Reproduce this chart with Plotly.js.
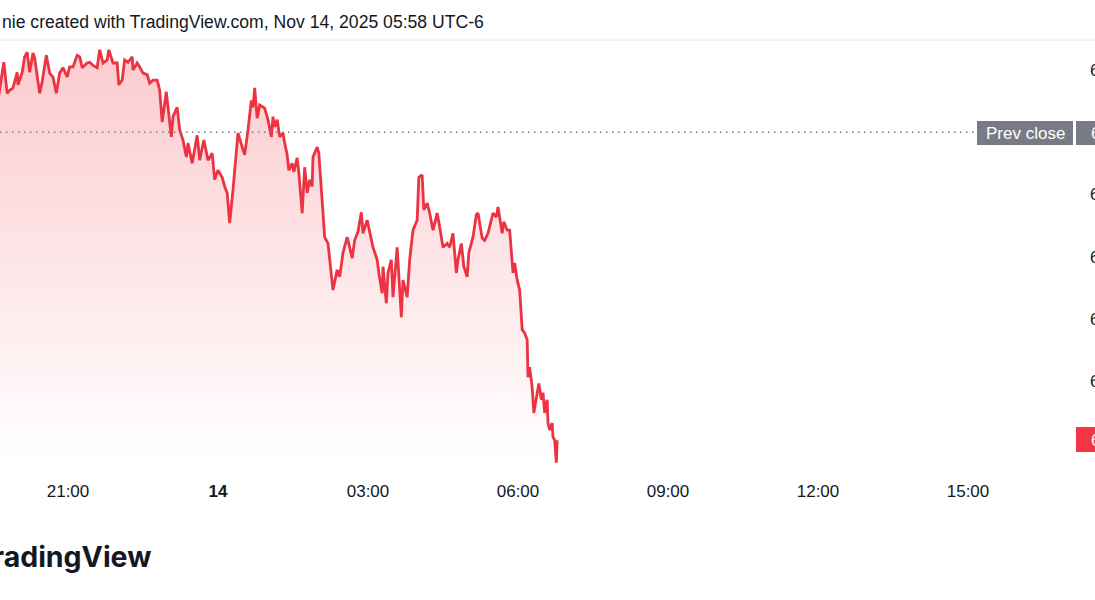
<!DOCTYPE html>
<html>
<head>
<meta charset="utf-8">
<script src="https://cdn.plot.ly/plotly-3.0.1.min.js"></script>
<style>
html,body{margin:0;padding:0;background:#fff;}
#chart{width:1095px;height:600px;}
</style>
</head>
<body>
<div id="chart"></div>
<script>
// ---- data ----
const times = [
"2025-11-13 19:36","2025-11-13 19:43","2025-11-13 19:47","2025-11-13 19:50","2025-11-13 19:54","2025-11-13 19:59","2025-11-13 20:00",
"2025-11-13 20:05","2025-11-13 20:08","2025-11-13 20:11","2025-11-13 20:14","2025-11-13 20:18","2025-11-13 20:20","2025-11-13 20:23",
"2025-11-13 20:26","2025-11-13 20:29","2025-11-13 20:34","2025-11-13 20:38","2025-11-13 20:42","2025-11-13 20:46","2025-11-13 20:50",
"2025-11-13 20:54","2025-11-13 20:59","2025-11-13 21:02","2025-11-13 21:06","2025-11-13 21:11","2025-11-13 21:14","2025-11-13 21:17",
"2025-11-13 21:23","2025-11-13 21:26","2025-11-13 21:30","2025-11-13 21:35","2025-11-13 21:38","2025-11-13 21:42","2025-11-13 21:47",
"2025-11-13 21:49","2025-11-13 21:54","2025-11-13 21:59","2025-11-13 22:01","2025-11-13 22:05","2025-11-13 22:08","2025-11-13 22:12",
"2025-11-13 22:17","2025-11-13 22:18","2025-11-13 22:23","2025-11-13 22:26","2025-11-13 22:30","2025-11-13 22:35","2025-11-13 22:38",
"2025-11-13 22:42","2025-11-13 22:47","2025-11-13 22:50","2025-11-13 22:53","2025-11-13 22:58","2025-11-13 23:00","2025-11-13 23:04",
"2025-11-13 23:06","2025-11-13 23:11","2025-11-13 23:14","2025-11-13 23:18","2025-11-13 23:22","2025-11-13 23:24","2025-11-13 23:29",
"2025-11-13 23:35","2025-11-13 23:38","2025-11-13 23:43","2025-11-13 23:48","2025-11-13 23:53","2025-11-13 23:56","2025-11-14 00:00",
"2025-11-14 00:05","2025-11-14 00:08","2025-11-14 00:11","2025-11-14 00:14","2025-11-14 00:18","2025-11-14 00:20","2025-11-14 00:24",
"2025-11-14 00:29","2025-11-14 00:32","2025-11-14 00:36","2025-11-14 00:40","2025-11-14 00:42","2025-11-14 00:44","2025-11-14 00:47",
"2025-11-14 00:50","2025-11-14 00:56","2025-11-14 01:00","2025-11-14 01:04","2025-11-14 01:06","2025-11-14 01:08","2025-11-14 01:11",
"2025-11-14 01:14","2025-11-14 01:18","2025-11-14 01:20","2025-11-14 01:23","2025-11-14 01:25","2025-11-14 01:29","2025-11-14 01:31",
"2025-11-14 01:35","2025-11-14 01:37","2025-11-14 01:41","2025-11-14 01:44","2025-11-14 01:47","2025-11-14 01:50","2025-11-14 01:53",
"2025-11-14 01:54","2025-11-14 01:59","2025-11-14 02:01","2025-11-14 02:05","2025-11-14 02:08","2025-11-14 02:12","2025-11-14 02:18",
"2025-11-14 02:23","2025-11-14 02:26","2025-11-14 02:30","2025-11-14 02:35","2025-11-14 02:38","2025-11-14 02:41","2025-11-14 02:44",
"2025-11-14 02:48","2025-11-14 02:52","2025-11-14 02:54","2025-11-14 02:59","2025-11-14 03:02","2025-11-14 03:06","2025-11-14 03:11",
"2025-11-14 03:13","2025-11-14 03:17","2025-11-14 03:18","2025-11-14 03:22","2025-11-14 03:24","2025-11-14 03:28","2025-11-14 03:30",
"2025-11-14 03:35","2025-11-14 03:37","2025-11-14 03:40","2025-11-14 03:42","2025-11-14 03:47","2025-11-14 03:50","2025-11-14 03:54",
"2025-11-14 03:59","2025-11-14 04:01","2025-11-14 04:05","2025-11-14 04:07","2025-11-14 04:11","2025-11-14 04:14","2025-11-14 04:18",
"2025-11-14 04:23","2025-11-14 04:26","2025-11-14 04:30","2025-11-14 04:35","2025-11-14 04:38","2025-11-14 04:42","2025-11-14 04:46",
"2025-11-14 04:48","2025-11-14 04:52","2025-11-14 04:55","2025-11-14 04:59","2025-11-14 05:01","2025-11-14 05:06","2025-11-14 05:10",
"2025-11-14 05:12","2025-11-14 05:17","2025-11-14 05:20","2025-11-14 05:24","2025-11-14 05:30","2025-11-14 05:34","2025-11-14 05:36",
"2025-11-14 05:41","2025-11-14 05:43","2025-11-14 05:47","2025-11-14 05:50","2025-11-14 05:54","2025-11-14 05:56","2025-11-14 05:59",
"2025-11-14 06:02","2025-11-14 06:05","2025-11-14 06:08","2025-11-14 06:11","2025-11-14 06:12","2025-11-14 06:14","2025-11-14 06:17",
"2025-11-14 06:19","2025-11-14 06:23","2025-11-14 06:25","2025-11-14 06:28","2025-11-14 06:30","2025-11-14 06:32","2025-11-14 06:35",
"2025-11-14 06:36","2025-11-14 06:38","2025-11-14 06:41","2025-11-14 06:42","2025-11-14 06:44","2025-11-14 06:46","2025-11-14 06:47"
];
const prices = [
6790.25,6802.5,6792.5,6793.5,6794.25,6799.25,6795.25,
6799.25,6804.25,6805.75,6799.25,6805.5,6803.75,6797.75,
6792.5,6796.25,6804.75,6799,6797.75,6792.5,6799,
6800.75,6797.75,6801,6801,6804.75,6804.25,6800.75,
6802.25,6802.5,6801.5,6800.75,6806.5,6802.25,6803.25,
6806.5,6802.25,6802.25,6795.25,6796.75,6803.25,6802.5,
6804.25,6800,6802.25,6801,6799,6798.5,6795.75,
6796.75,6796.75,6793.5,6783.25,6793,6788,6778.5,
6785,6788,6780.75,6777.5,6772,6776.5,6770,
6779,6771,6777.5,6771,6773.25,6764.75,6767.75,
6765.5,6762.5,6760.5,6750.75,6761.5,6767,6779.75,
6775.25,6772.75,6780.75,6790.25,6788,6794.25,6784.5,
6788.75,6787.75,6784,6778.5,6785,6781.75,6784,
6778.5,6779.75,6776.5,6772.75,6767.75,6770,6767.25,
6771.75,6767,6754,6768.75,6760.5,6764.75,6762.5,
6772,6775.25,6773.25,6757.25,6746.25,6744.25,6729.25,
6735.75,6733.5,6741.25,6746.25,6743,6739.5,6745.25,
6748,6754.25,6747.5,6751.75,6747.5,6743,6739,
6734.75,6728.25,6736.75,6725,6734.75,6739,6727,
6743,6734.75,6720.5,6732.5,6727,6739,6748.5,
6751.75,6765.5,6766.25,6755,6757.25,6754,6748.5,
6754,6749.5,6743,6744.25,6743,6747.5,6734.75,
6739,6744.25,6736.75,6733.5,6741.25,6746.25,6753.5,
6754,6746,6745.25,6747.5,6754,6752.75,6756,
6747.5,6751.25,6748.5,6748.5,6734.75,6738,6732.5,
6729.25,6716.5,6715.5,6713.25,6701.25,6704.5,6698,
6689.75,6696.25,6699.25,6694,6696.25,6689.75,6694,
6686.5,6684.25,6686.5,6682,6681,6673.75,6681
];
const prevClose = 6780.00;
const lastPrice = 6681.00;
const xTickVals = ["2025-11-13 21:00","2025-11-14 00:00","2025-11-14 03:00","2025-11-14 06:00","2025-11-14 09:00","2025-11-14 12:00","2025-11-14 15:00"];
const xTickText = ["21:00","<b>14</b>","03:00","06:00","09:00","12:00","15:00"];
const yTickVals = [6800, 6760, 6740, 6720, 6700];
const yTickText = ["6,800.00","6,760.00","6,740.00","6,720.00","6,700.00"];
const headerText = "nie created with TradingView.com, Nov 14, 2025 05:58 UTC-6";
const logoText = "TradingView";

// ---- layout constants ----
const W = 1095, H = 600;
const mL = 0, mR = 20, mT = 40, mB = 130;
const plotW = W - mL - mR, plotH = H - mT - mB;
const px = v => (v - mL) / plotW;          // page x -> paper x
const py = v => 1 - (v - mT) / plotH;      // page y -> paper y
const RED = "#F23645", GREY = "#787b86";
const FONT = "Liberation Sans, Arial, sans-serif";

const trace = {
  x: times, y: prices, type: "scatter", mode: "lines",
  line: {color: "#EC3342", width: 2.8, shape: "linear"},
  fill: "tozeroy",
  fillgradient: {type: "vertical", start: 6674, stop: 6806,
    colorscale: [[0, "rgba(242,54,69,0)"], [1, "rgba(242,54,69,0.26)"]]},
  hoverinfo: "skip", showlegend: false
};

const layout = {
  width: W, height: H,
  margin: {l: mL, r: mR, t: mT, b: mB, pad: 0},
  paper_bgcolor: "#ffffff", plot_bgcolor: "#ffffff",
  font: {family: FONT, color: "#131722", size: 17},
  xaxis: {
    type: "date",
    range: ["2025-11-13 19:38:24", "2025-11-14 17:08:24"],
    tickvals: xTickVals, ticktext: xTickText,
    showgrid: false, zeroline: false, showline: false, ticks: "",
    tickfont: {family: FONT, size: 17, color: "#131722"},
    ticklabelstandoff: 9, fixedrange: true
  },
  yaxis: {
    side: "right",
    range: [6671.4, 6809.65],
    tickvals: yTickVals, ticktext: yTickText,
    showgrid: false, zeroline: false, showline: false, ticks: "",
    tickfont: {family: FONT, size: 17, color: "#131722"},
    ticklabelstandoff: 14, fixedrange: true
  },
  shapes: [
    // header separator
    {type: "line", xref: "paper", yref: "paper", x0: px(0), x1: px(W), y0: py(40), y1: py(40),
     line: {color: "#e6e8ee", width: 1}},
    // prev close dotted line
    {type: "line", xref: "paper", yref: "y", x0: px(0), x1: px(975), y0: prevClose, y1: prevClose,
     line: {color: GREY, width: 1.5, dash: "1.5px,4.5px"}},
    // prev close label box
    {type: "rect", xref: "paper", yref: "paper", x0: px(977), x1: px(1073), y0: py(145), y1: py(121),
     fillcolor: GREY, line: {width: 0}},
    // prev close value box
    {type: "rect", xref: "paper", yref: "paper", x0: px(1076), x1: px(1110), y0: py(145), y1: py(121),
     fillcolor: GREY, line: {width: 0}},
    // last price box
    {type: "rect", xref: "paper", yref: "paper", x0: px(1076), x1: px(1110), y0: py(452), y1: py(427),
     fillcolor: RED, line: {width: 0}}
  ],
  annotations: [
    {text: headerText, xref: "paper", yref: "paper", x: px(0), y: py(22), xanchor: "left", yanchor: "middle",
     showarrow: false, font: {family: FONT, size: 17.6, color: "#131722"}},
    {text: "Prev close", xref: "paper", yref: "paper", x: px(1025), y: py(133), xanchor: "center", yanchor: "middle",
     showarrow: false, font: {family: FONT, size: 17, color: "#ffffff"}},
    {text: prevClose.toLocaleString("en-US", {minimumFractionDigits: 2}), xref: "paper", yref: "paper",
     x: px(1089), y: py(133), xanchor: "left", yanchor: "middle",
     showarrow: false, font: {family: FONT, size: 17, color: "#ffffff"}},
    {text: lastPrice.toLocaleString("en-US", {minimumFractionDigits: 2}), xref: "paper", yref: "paper",
     x: px(1089), y: py(440), xanchor: "left", yanchor: "middle",
     showarrow: false, font: {family: FONT, size: 17, color: "#ffffff"}},
    {text: logoText, xref: "paper", yref: "paper", x: px(153), y: py(556), xanchor: "right", yanchor: "middle",
     showarrow: false, font: {family: "Inter, Lato, sans-serif", size: 28.5, color: "#131722", weight: 700}}
  ]
};

Plotly.newPlot("chart", [trace], layout, {displayModeBar: false, staticPlot: true});
</script>
</body>
</html>
